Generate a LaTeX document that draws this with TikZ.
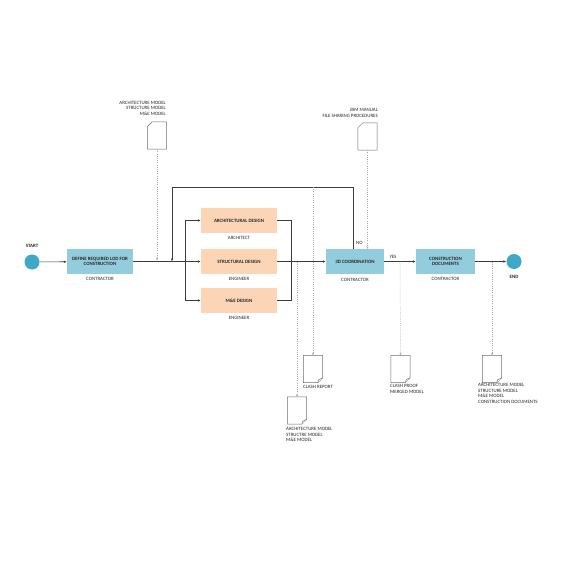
\documentclass[tikz,border=0pt]{standalone}
\usepackage{fontspec}
\setmainfont{Carlito}
\usetikzlibrary{arrows.meta,calc}
\definecolor{boxblue}{HTML}{93CDDD}
\definecolor{boxorange}{HTML}{FBD5B5}
\definecolor{circblue}{HTML}{3FA7C8}
\definecolor{lnc}{HTML}{3C3C3C}
\definecolor{dotc}{HTML}{A8A8A8}
\definecolor{docc}{HTML}{6E6E6E}
\newcommand{\docup}[2]{%
  \node[docnode] (#1) at (#2) {};
  \draw[docline] ($(#1.north west)+(0,5)$) -- ($(#1.north west)+(5,0)$) -- (#1.north east) -- (#1.south east) -- (#1.south west) -- cycle;}
\newcommand{\docdown}[2]{%
  \node[docnode] (#1) at (#2) {};
  \draw[docline] (#1.north west) -- (#1.north east) -- ($(#1.south east)+(0,-5)$) -- ($(#1.south east)+(-5,0)$) -- (#1.south west) -- cycle;
  \draw[docline] ($(#1.south east)+(0,-5)$) -- ($(#1.south east)+(-4,-3)$) -- ($(#1.south east)+(-5,0)$);}
\begin{document}
\begin{tikzpicture}[x=1pt,y=-1pt,
  lbl/.style={font=\fontsize{4.9}{5.8}\selectfont, inner sep=0pt, text=black!85},
  bt/.style={font=\bfseries\fontsize{4.9}{5.8}\selectfont, inner sep=0pt, text=black!85, align=center},
  bluebox/.style={bt, fill=boxblue, minimum height=25pt},
  orangebox/.style={bt, fill=boxorange, minimum width=76pt, minimum height=25pt},
  flowcirc/.style={circle, fill=circblue, minimum size=15pt, inner sep=0pt},
  docnode/.style={inner sep=0pt, minimum width=19pt, minimum height=27pt},
  docline/.style={draw=docc, line width=0.5pt, fill=white},
  flow/.style={draw=lnc, line width=0.6pt, -{Latex[length=3pt,width=2.6pt]}},
  plain/.style={draw=lnc, line width=0.6pt},
  dotarr/.style={draw=dotc, line width=0.5pt, dash pattern=on 0.8pt off 1.4pt, -{Stealth[length=2.5pt,width=2.2pt]}},
]
\useasboundingbox[fill=white] (0,0) rectangle (567,567);

% main nodes
\node[flowcirc] (start) at (32,262) {};
\node[lbl] (startl) at (32,245.5) {\bfseries START};
\node[bluebox, minimum width=66pt] (lod) at (100,261.5) {DEFINE REQUIRED LOD FOR\\CONSTRUCTION};
\node[lbl] (lodl) at (100,279) {CONTRACTOR};

\node[orangebox] (arch) at (239,220.5) {ARCHITECTURAL DESIGN};
\node[lbl] (archl) at (239,238) {ARCHITECT};
\node[orangebox] (str) at (239,261.5) {STRUCTURAL DESIGN};
\node[lbl] (strl) at (239,278.5) {ENGINEER};
\node[orangebox] (mep) at (239,300.5) {M\&E DESIGN};
\node[lbl] (mepl) at (239,318) {ENGINEER};

\node[bluebox, minimum width=58pt] (coord) at (355,261.5) {3D COORDINATION};
\node[lbl] (coordl) at (355,280) {CONTRACTOR};
\node[bluebox, minimum width=59pt] (cd) at (445.5,261.5) {CONSTRUCTION\\DOCUMENTS};
\node[lbl] (cdl) at (445.5,279) {CONTRACTOR};
\node[flowcirc] (end) at (514,261.5) {};
\node[lbl] (endl) at (514,276.5) {\bfseries END};

% helper coordinates
\coordinate (j1) at (172,261.5);
\coordinate (sp) at (185,261.5);
\coordinate (mg) at (291,261.5);
\coordinate (loopl) at (172,187);
\coordinate (loopr) at (353,187);
\coordinate (d1) at (157,261.5);
\coordinate (d3) at (313,187);
\coordinate (d4) at (297,261.5);
\coordinate (d5) at (400,261.5);
\coordinate (d6) at (492,261.5);

% documents
\docup{docA}{157,135.5}
\node[lbl, align=right, anchor=south east] (docAl) at (166,116) {ARCHITECTURE MODEL\\STRUCTURE MODEL\\M\&E MODEL};
\docup{docB}{367.5,136.5}
\node[lbl, align=right, anchor=south east] (docBl) at (378,118) {BIM MANUAL\\FILE SHARING PROCEDURES};
\docdown{docC}{313,369}
\node[lbl, align=left, anchor=north west] (docCl) at (303,385) {CLASH REPORT};
\docdown{docD}{297,410.5}
\node[lbl, align=left, anchor=north west] (docDl) at (286,427) {ARCHITECTURE MODEL\\STRUCTRE MODEL\\M\&E MODEL};
\docdown{docE}{400.5,369}
\node[lbl, align=left, anchor=north west] (docEl) at (390,384) {CLASH PROOF\\MERGED MODEL};
\docdown{docF}{492,369}
\node[lbl, align=left, anchor=north west] (docFl) at (478,383) {ARCHITECTURE MODEL\\STRUCTURE MODEL\\M\&E MODEL\\CONSTRUCTION DOCUMENTS};

% flow connectors
\draw[flow] (start) -- (lod);
\draw[flow] (lod) -- (str);
\draw[plain] (sp |- arch) -- (sp |- mep);
\draw[flow] (sp |- arch) -- (arch);
\draw[flow] (sp |- mep) -- (mep);
\draw[plain] (arch) -| (mg |- mep) -- (mep);
\draw[flow] (str) -- (coord);
\draw[flow] (coord.north -| loopr) -- (loopr) -- (loopl) -- (j1);
\draw[flow] (coord) -- (cd);
\draw[flow] (cd) -- (end);
\node[lbl, anchor=south west] (nol) at (356,245) {NO};
\node[lbl, anchor=south] (yesl) at (393,258.5) {YES};

% dotted connectors
\draw[dotarr] (docA.south) -- ($(d1)+(0,-1)$);
\draw[dotarr] (docB.south) -- (docB.south |- coord.north);
\draw[dotarr] (d3) -- (docC.north);
\draw[dotarr] (d4) -- (docD.north);
\draw[dotarr] (d5) -- (docE.north);
\draw[dotarr] (d6) -- (docF.north);
\end{tikzpicture}
\end{document}
